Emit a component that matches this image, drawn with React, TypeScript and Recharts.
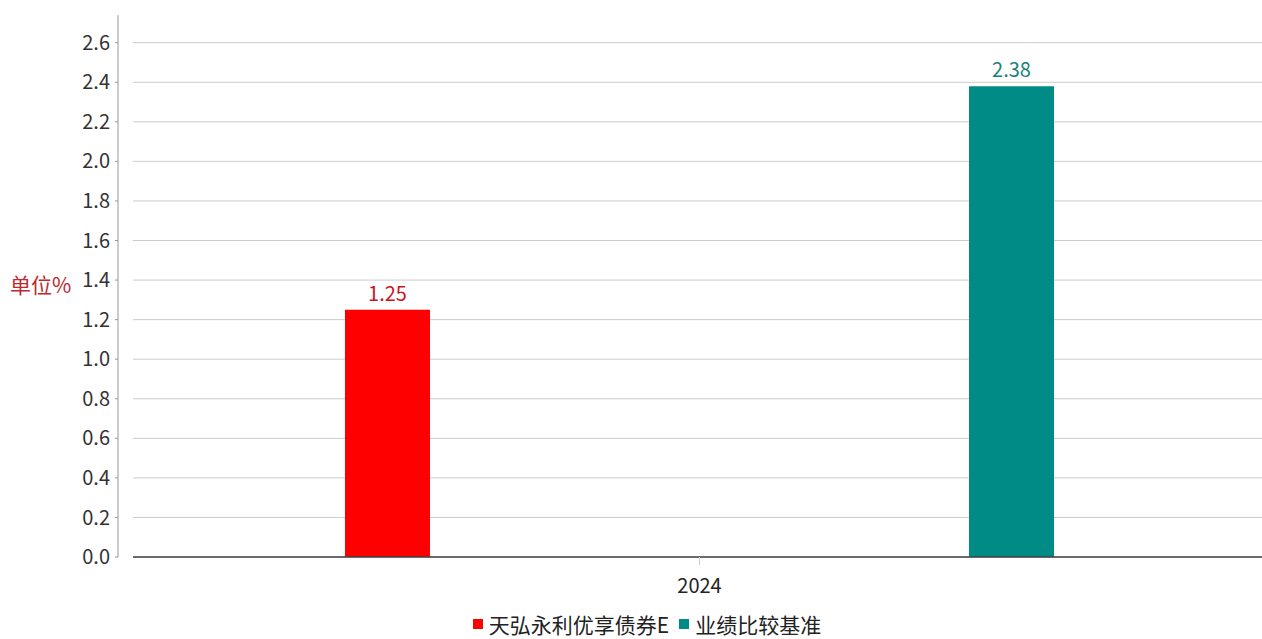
import React from 'react'
import { BarChart, Bar, XAxis, YAxis, CartesianGrid, Legend, LabelList } from 'recharts'

const categories = ['2024']
const fundValues = [1.25]
const benchmarkValues = [2.38]
const seriesNames = ['天弘永利优享债券E', '业绩比较基准']
const seriesColors = ['#ff0000', '#008b87']
const labelColors = ['#c8161d', '#1a7f7b']
const yTicks = [0, 0.2, 0.4, 0.6, 0.8, 1.0, 1.2, 1.4, 1.6, 1.8, 2.0, 2.2, 2.4, 2.6]
const yMax = 2.74

const data = categories.map((year, i) => ({
  year,
  fund: fundValues[i],
  benchmark: benchmarkValues[i],
}))

const FONT = '"Noto Sans CJK SC", "Noto Sans", sans-serif'

function LegendBox() {
  return (
    <div style={{ display: 'flex', justifyContent: 'center', alignItems: 'center', height: 22, lineHeight: '21px', paddingBottom: 4, paddingLeft: 20, fontFamily: FONT, fontSize: 21, color: '#222' }}>
      {seriesNames.map((name, i) => (
        <span key={name} style={{ display: 'flex', alignItems: 'center', marginRight: i === 0 ? 10 : 0 }}>
          <span style={{ width: 10, height: 10, background: seriesColors[i], marginRight: 6, display: 'inline-block' }} />
          {name}
        </span>
      ))}
    </div>
  )
}

// grid rows only at the listed ticks (no line at the top edge)
const gridRows = ({ yAxis, offset }: any) => {
  const s = yAxis?.scale
  if (typeof s === 'function') return yTicks.map((t) => s(t))
  if (s && typeof s.map === 'function') return yTicks.map((t) => s.map(t))
  return yTicks.map((t) => offset.top + offset.height * (1 - t / yMax))
}

export default function App() {
  return (
    <div style={{ position: 'absolute', left: 0, top: 0, fontFamily: FONT, overflow: 'hidden', width: 1262, height: 639 }}>
      <BarChart
        width={1262}
        height={639}
        data={data}
        margin={{ top: 15, right: -4, bottom: 0, left: 8 }}
        barGap={539}
      >
        <CartesianGrid yAxisId="v" vertical={false} stroke="#cccccc" horizontalCoordinatesGenerator={gridRows} />
        <YAxis yAxisId="gap" width={15} tick={false} axisLine={false} tickLine={false} />
        <YAxis
          yAxisId="v"
          width={110}
          domain={[0, yMax]}
          ticks={yTicks}
          interval={0}
          tickFormatter={(v: number) => v.toFixed(1)}
          tick={{ fill: '#333', fontSize: 20, fontFamily: FONT }}
          tickSize={3}
          tickMargin={5}
          axisLine={{ stroke: '#999' }}
          tickLine={{ stroke: '#999' }}
          label={{ value: '单位%', position: 'insideLeft', offset: 2, fill: '#c0282d', fontSize: 21, fontFamily: FONT }}
        />
        <XAxis
          dataKey="year"
          height={56}
          tick={{ fill: '#222', fontSize: 20, fontFamily: FONT }}
          tickSize={8}
          tickMargin={14}
          axisLine={{ stroke: '#404040', strokeWidth: 1.5 }}
          tickLine={{ stroke: '#ccc' }}
        />
        <Legend verticalAlign="bottom" content={<LegendBox />} />
        <Bar yAxisId="v" dataKey="fund" name={seriesNames[0]} fill={seriesColors[0]} barSize={85} isAnimationActive={false}>
          <LabelList dataKey="fund" position="top" offset={9} fill={labelColors[0]} fontSize={20} fontFamily={FONT} />
        </Bar>
        <Bar yAxisId="v" dataKey="benchmark" name={seriesNames[1]} fill={seriesColors[1]} barSize={85} isAnimationActive={false}>
          <LabelList dataKey="benchmark" position="top" offset={9} fill={labelColors[1]} fontSize={20} fontFamily={FONT} />
        </Bar>
      </BarChart>
    </div>
  )
}
